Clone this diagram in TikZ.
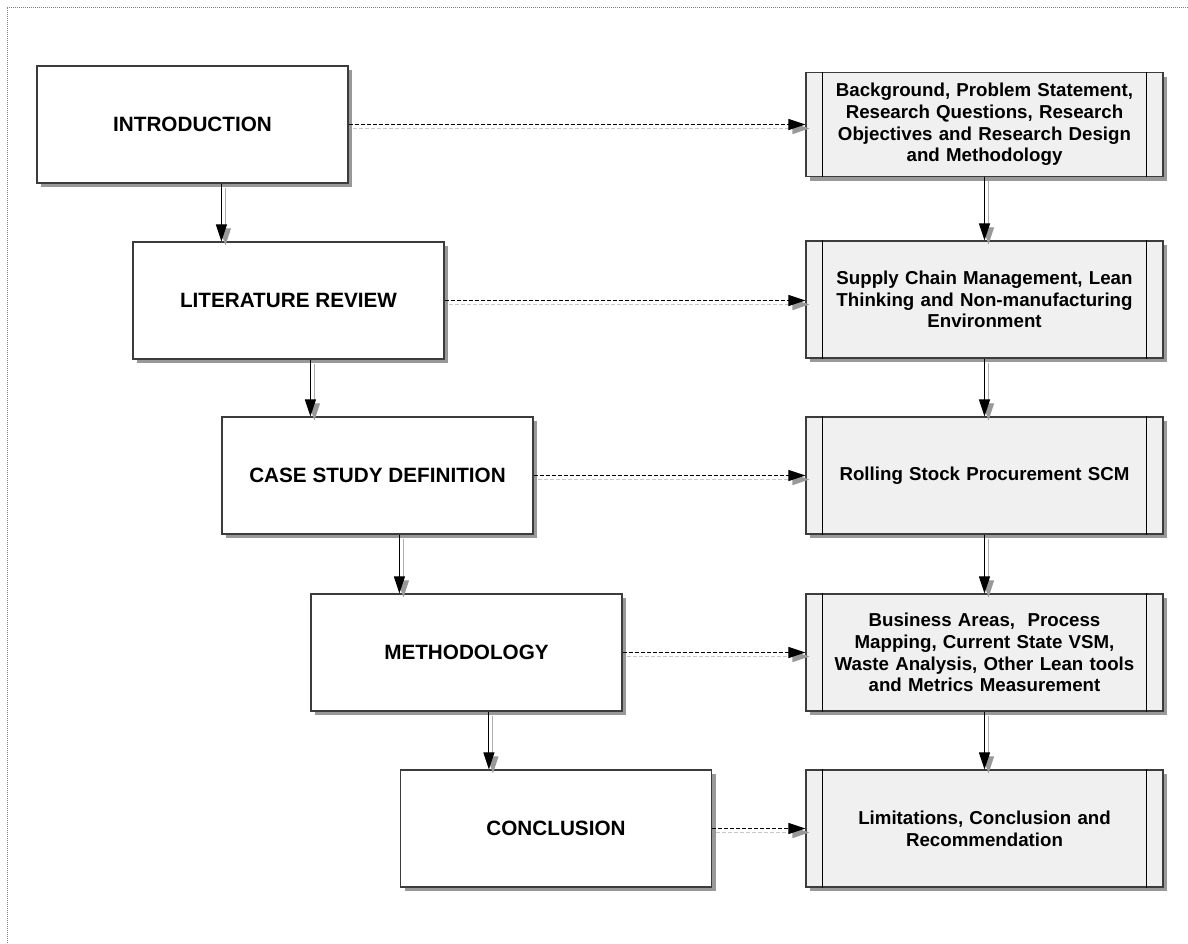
\documentclass[tikz,border=0pt]{standalone}
\usepackage{fontspec}
\setmainfont{Liberation Sans}
\usetikzlibrary{arrows.meta,shadows}
\definecolor{shade}{HTML}{999999}
\definecolor{panel}{HTML}{F0F0F0}
\definecolor{edge}{HTML}{3C3C3C}
\definecolor{ghost}{HTML}{C8C8C8}
\definecolor{framecol}{HTML}{808080}
\begin{document}
\begin{tikzpicture}[x=1pt,y=-1pt,
  boxshadow/.style={drop shadow={shadow xshift=4pt, shadow yshift=-4pt, opacity=1, fill=shade}},
  stage/.style={draw=edge, line width=1.2pt, fill=white, minimum width=311pt,
    minimum height=117pt, inner sep=0pt, boxshadow,
    font=\fontsize{20.7}{24}\selectfont\bfseries},
  topic/.style={draw=edge, line width=1.2pt, fill=panel, minimum width=357pt,
    minimum height=117pt, inner sep=0pt, text width=318pt, align=center, boxshadow,
    font=\fontsize{18.7}{21.7}\selectfont\bfseries},
  tip/.style={-{Triangle[length=17pt,width=11pt]}},
  flow/.style={tip, line width=1pt, black},
  flowshade/.style={-{Triangle[length=17pt,width=11pt,color=shade]}, line width=0.9pt,
    draw=shade!80, transform canvas={shift={(4pt,-4pt)}}},
  link/.style={tip, line width=1pt, black, dash pattern=on 4pt off 2pt},
  linkshade/.style={-{Triangle[length=17pt,width=11pt,color=shade]}, line width=1.6pt,
    draw=ghost, dash pattern=on 4pt off 2pt, transform canvas={shift={(4pt,-4pt)}}},
  divider/.style={black, line width=1pt}
]
\useasboundingbox (0,0) rectangle (1188,943);

% page frame
\draw[framecol, densely dotted, line width=1pt] (7,943) -- (7,7) -- (1188,7);

% chapter boxes
\node[stage] (intro) at (192.5,124.5) {INTRODUCTION};
\node[stage] (lit)   at (288.5,300.5) {LITERATURE REVIEW};
\node[stage] (case)  at (377.5,475.5) {CASE STUDY DEFINITION};
\node[stage] (meth)  at (466.5,652.5) {METHODOLOGY};
\node[stage] (conc)  at (556,828.5)   {CONCLUSION};

% content boxes
\node[topic, minimum height=104pt] (b1) at (984.5,124.5)
  {Background, Problem Statement,\\Research Questions, Research\\Objectives and Research Design\\and Methodology};
\node[topic] (b2) at (984.5,299.5)
  {Supply Chain Management, Lean\\Thinking and Non-manufacturing\\Environment};
\node[topic] (b3) at (984.5,475.5) {Rolling Stock Procurement SCM};
\node[topic] (b4) at (984.5,652.5)
  {Business Areas,~ Process\\Mapping, Current State VSM,\\Waste Analysis, Other Lean tools\\and Metrics Measurement};
\node[topic] (b5) at (984.5,828.5)
  {Limitations, Conclusion and\\Recommendation};

% side bars of the content boxes
\foreach \n in {b1,b2,b3,b4,b5} {
  \draw[divider] ([xshift=17pt]\n.north west) -- ([xshift=17pt]\n.south west);
  \draw[divider] ([xshift=-17pt]\n.north east) -- ([xshift=-17pt]\n.south east);
}

% entry points of the chapter arrows
\coordinate (e2) at ([xshift=89pt]lit.north west);
\coordinate (e3) at ([xshift=89pt]case.north west);
\coordinate (e4) at ([xshift=89pt]meth.north west);
\coordinate (e5) at ([xshift=89pt]conc.north west);

% shadows of the connectors
\draw[flowshade] (e2 |- intro.south) -- (e2);
\draw[flowshade] (e3 |- lit.south) -- (e3);
\draw[flowshade] (e4 |- case.south) -- (e4);
\draw[flowshade] (e5 |- meth.south) -- (e5);
\draw[flowshade] (b1.south) -- (b2.north);
\draw[flowshade] (b2.south) -- (b3.north);
\draw[flowshade] (b3.south) -- (b4.north);
\draw[flowshade] (b4.south) -- (b5.north);
\draw[linkshade] (intro.east) -- (b1.west);
\draw[linkshade] (lit.east) -- (b2.west |- lit.east);
\draw[linkshade] (case.east) -- (b3.west);
\draw[linkshade] (meth.east) -- (b4.west);
\draw[linkshade] (conc.east) -- (b5.west);

% connectors
\draw[flow] (e2 |- intro.south) -- (e2);
\draw[flow] (e3 |- lit.south) -- (e3);
\draw[flow] (e4 |- case.south) -- (e4);
\draw[flow] (e5 |- meth.south) -- (e5);
\draw[flow] (b1.south) -- (b2.north);
\draw[flow] (b2.south) -- (b3.north);
\draw[flow] (b3.south) -- (b4.north);
\draw[flow] (b4.south) -- (b5.north);
\draw[link] (intro.east) -- (b1.west);
\draw[link] (lit.east) -- (b2.west |- lit.east);
\draw[link] (case.east) -- (b3.west);
\draw[link] (meth.east) -- (b4.west);
\draw[link] (conc.east) -- (b5.west);
\end{tikzpicture}
\end{document}
